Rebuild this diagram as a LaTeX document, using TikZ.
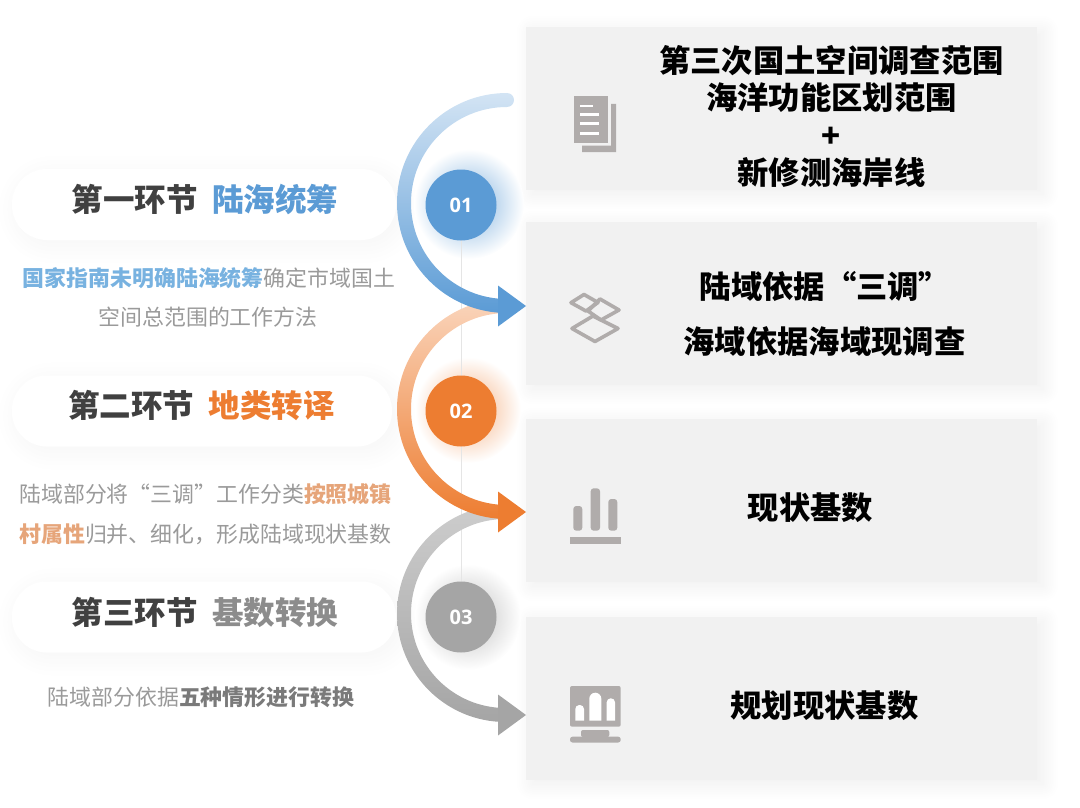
\documentclass[tikz,border=0pt]{standalone}
\usepackage{fontspec}
\setmainfont{Noto Sans CJK SC}
\newfontfamily\numfont{Open Sans}
\usetikzlibrary{shadows.blur}
\definecolor{cblue}{HTML}{5B9BD5}
\definecolor{cbluetop}{HTML}{D3E4F4}
\definecolor{corange}{HTML}{ED7D31}
\definecolor{corangetop}{HTML}{FAD5BC}
\definecolor{cgray}{HTML}{A5A5A5}
\definecolor{cgraytop}{HTML}{CDCDCD}
\definecolor{panelgray}{HTML}{F1F1F1}
\definecolor{icongray}{HTML}{B0ACAB}
\definecolor{titledark}{HTML}{404040}
\definecolor{bodygray}{HTML}{9A9A9A}
\definecolor{softblue}{HTML}{78B2E0}
\definecolor{softorange}{HTML}{E6A57A}
\definecolor{strongray}{HTML}{7A7A7A}
\newcommand{\flowarc}[5]{
	\shade[top color=#3,bottom color=#4] (#1) ++(0,-7) arc[start angle=-90,end angle=-270,radius=#5+7]
		-- ++(0,-14) arc[start angle=90,end angle=270,radius=#5-7]
		arc[start angle=90,end angle=-90,radius=7] -- cycle;
	\fill[#4] (#2) -- ++(-28,-20.5) -- ++(0,41) -- cycle;
}
\tikzstyle{panel} = [fill=panelgray,minimum width=511pt,minimum height=163pt,inner sep=0pt,
	blur shadow={shadow xshift=6pt,shadow yshift=-4pt,shadow blur radius=16pt,shadow blur steps=24,shadow opacity=7}]
\tikzstyle{pill} = [fill=white,rounded corners=35pt,minimum height=71pt,inner sep=0pt,
	blur shadow={shadow xshift=5pt,shadow yshift=-5pt,shadow blur radius=20pt,shadow blur steps=24,shadow opacity=4}]
\tikzstyle{badge} = [circle,minimum size=71pt,inner sep=0pt,text=white,font=\numfont\bfseries\fontsize{20}{20}\selectfont]
\tikzstyle{heading} = [inner sep=0pt,text=titledark,font=\bfseries\fontsize{31.5}{31.5}\selectfont]
\tikzstyle{body} = [inner sep=0pt,text=bodygray,font=\fontsize{21.9}{21.9}\selectfont]
\tikzstyle{result} = [inner sep=0pt,align=center,text=black,font=\bfseries\fontsize{31.3}{37.5}\selectfont]
\tikzstyle{iconline} = [draw=icongray,line width=3.6pt,line join=round]
\begin{document}
\begin{tikzpicture}[x=1pt,y=1pt,yscale=-1]
	\useasboundingbox (0,0) rectangle (1080,808);
	\node[panel] (p1) at (781.5,108.5) {};
	\node[panel] (p2) at (781.5,303.5) {};
	\node[panel] (p3) at (781.5,500.5) {};
	\node[panel] (p4) at (781.5,698.5) {};
	\node[pill,minimum width=384pt] (h1) at (204,204.5) {};
	\node[pill,minimum width=380pt] (h2) at (202,411) {};
	\node[pill,minimum width=384pt] (h3) at (204,617) {};
	% soft glow behind the badges
	\shade[inner color=cblue!75!white,outer color=white] (469,204) circle (55);
	\shade[inner color=corange!60!white,outer color=white] (468,410) circle (53);
	\shade[inner color=cgray!70!white,outer color=white] (468,617) circle (53);
	% thin line behind the badges
	\coordinate (lt) at (461,240);
	\coordinate (lb) at (461,582);
	\draw[black!10,line width=1pt] (lt) -- (lb);
	\node[badge,fill=cblue] (b1) at (461,205) {01};
	\node[badge,fill=corange] (b2) at (461,411) {02};
	\node[badge,fill=cgray] (b3) at (461,617) {03};
	% arcs, last one first so each arrow head lies on the next arc
	\coordinate (s1) at (507,100);
	\coordinate (e1) at (526,306);
	\coordinate (s2) at (507,306);
	\coordinate (e2) at (526,512);
	\coordinate (s3) at (505.5,512);
	\coordinate (e3) at (526,715);
	\flowarc{s3}{e3}{cgraytop}{cgray}{101.5}
	\flowarc{s2}{e2}{corangetop}{corange}{103}
	\flowarc{s1}{e1}{cbluetop}{cblue}{103}
	% left texts
	\node[heading] (t1) at (205,199) {第一环节\hspace{15pt}\textcolor{cblue}{陆海统筹}};
	\node[heading] (t2) at (201.5,405) {第二环节\hspace{15pt}\textcolor{corange}{地类转译}};
	\node[heading] (t3) at (205,612) {第三环节\hspace{15pt}\textcolor{cgray!85!black}{基数转换}};
	\node[body] (d1a) at (209,278) {{\bfseries\color{softblue}国家指南未明确陆海统筹}确定市域国土};
	\node[body] (d1b) at (208,317) {空间总范围的工作方法};
	\node[body] (d2a) at (205.5,494) {陆域部分将“三调”工作分类{\bfseries\color{softorange}按照城镇}};
	\node[body] (d2b) at (205.5,534) {{\bfseries\color{softorange}村属性}归并、细化，形成陆域现状基数};
	\node[body] (d3) at (201,697) {陆域部分依据{\bfseries\color{strongray}五种情形进行转换}};
	% right texts
	\node[result] (r1) at (831.5,116.5) {第三次国土空间调查范围\\海洋功能区划范围\\+\\新修测海岸线};
	\node[result] (r2a) at (825,286) {陆域依据“三调”};
	\node[result] (r2b) at (824.5,342) {海域依据海域现调查};
	\node[result] (r3) at (810.5,508) {现状基数};
	\node[result] (r4) at (824.5,706) {规划现状基数};
	% document icon
	\fill[icongray] (574,96) rectangle (608,143);
	\fill[icongray] (611,104) -- (616,104) -- (616,152) -- (582,152) -- (582,145.5) -- (611,145.5) -- cycle;
	\draw[white,line width=2.4pt] (580,106) -- (593,106) (580,114.5) -- (599,114.5) (580,123.5) -- (599,123.5) (580,133.5) -- (599,133.5);
	% layers icon
	\draw[iconline] (584,294.5) -- (571,302.7) -- (586,311) -- (598,302.5) -- cycle;
	\draw[iconline] (600,299) -- (588,311) -- (601,320) -- (619,310) -- cycle;
	\draw[iconline] (593,316) -- (572,328.5) -- (595,341.5) -- (618,328.5) -- cycle;
	% bars icon
	\fill[icongray,rounded corners=3pt] (573.3,506) rectangle (582.3,530.7);
	\fill[icongray,rounded corners=3pt] (590.7,488.3) rectangle (600,530.7);
	\fill[icongray,rounded corners=3pt] (608.3,499) rectangle (617.3,530.7);
	\fill[icongray] (570,537.3) rectangle (620.7,544.3);
	% monitor icon
	\fill[icongray,rounded corners=2pt] (570,686) rectangle (620.7,726.7);
	\fill[white] (575.3,720.7) [rounded corners=4pt] -- (575.3,705) -- (584,705) [sharp corners] -- (584,720.7) -- cycle;
	\fill[white] (589.3,720.7) [rounded corners=6pt] -- (589.3,692.7) -- (601.3,692.7) [sharp corners] -- (601.3,720.7) -- cycle;
	\fill[white] (606.7,720.7) [rounded corners=4pt] -- (606.7,698.3) -- (615,698.3) [sharp corners] -- (615,720.7) -- cycle;
	\fill[icongray,rounded corners=2pt] (581,737) -- (581,730) -- (609.3,730) -- (609.3,737) -- cycle;
	\fill[icongray,rounded corners=2.5pt] (570,736.7) rectangle (620.7,742.5);
\end{tikzpicture}
\end{document}
